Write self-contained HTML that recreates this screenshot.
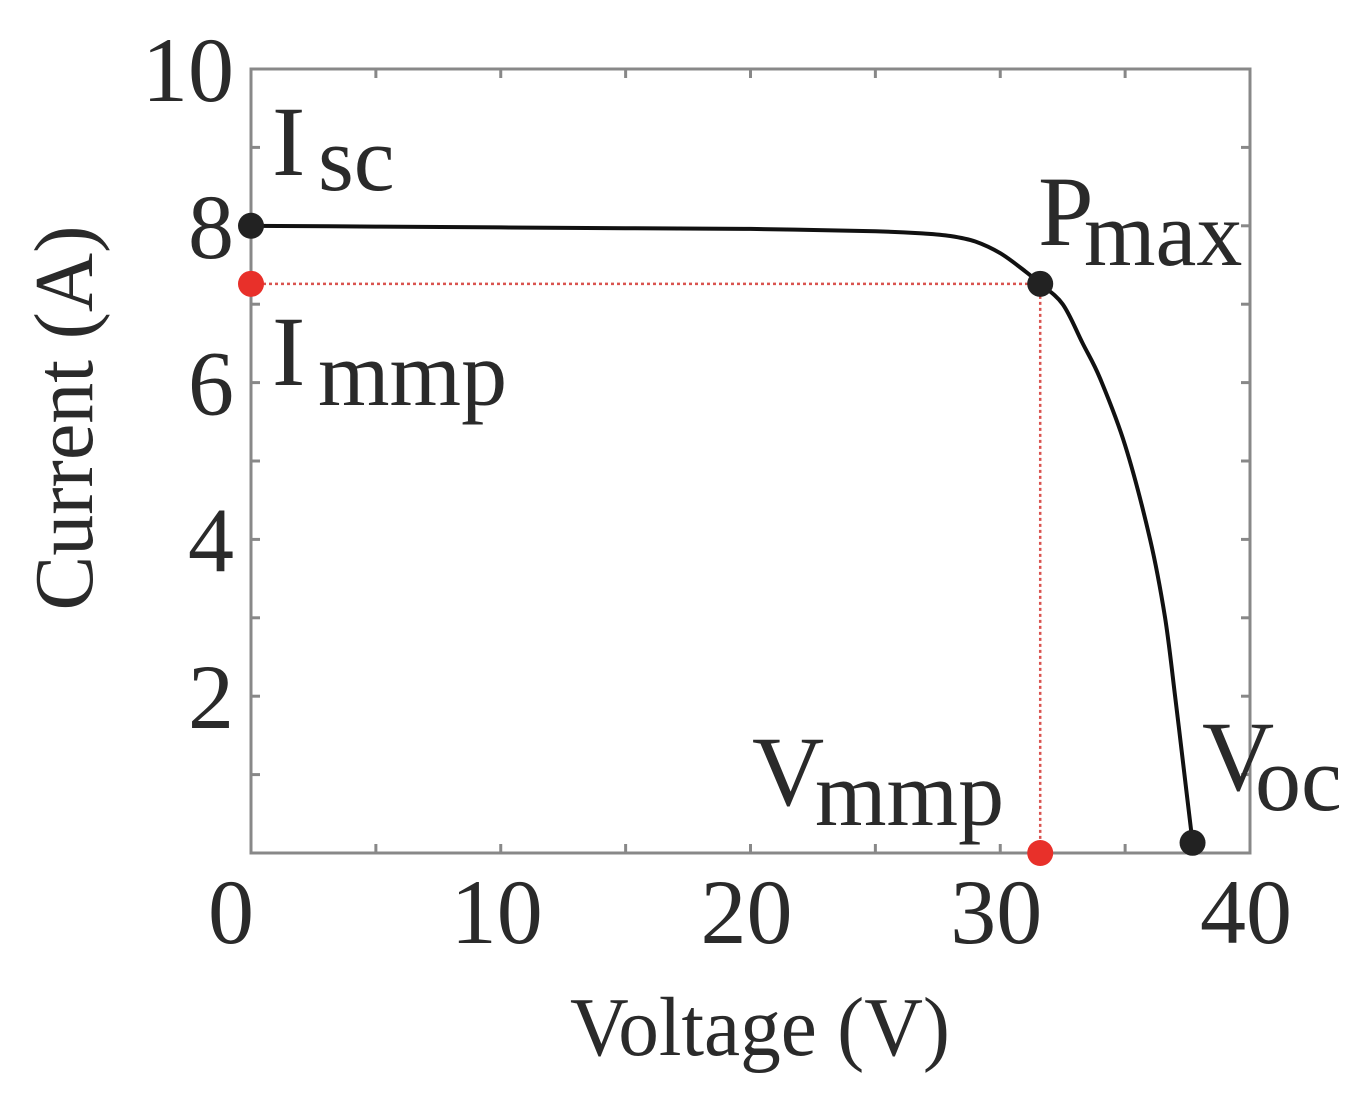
<!DOCTYPE html>
<html><head><meta charset="utf-8"><style>
html,body{margin:0;padding:0;background:#fff;}
svg{display:block;}
text{font-family:"Liberation Serif",serif;fill:#2a2a2a;}
</style></head><body>
<svg id="chart" width="1367" height="1100" viewBox="0 0 1367 1100">
<g id="axes"></g>
<g id="marks"></g>
<text x="760" y="1055" font-size="84" text-anchor="middle" textLength="380" lengthAdjust="spacingAndGlyphs">Voltage (V)</text>
<text transform="translate(92,418) rotate(-90)" font-size="84" text-anchor="middle" textLength="385" lengthAdjust="spacingAndGlyphs">Current (A)</text>
<text x="272" y="175" font-size="100">I<tspan x="318" y="190" font-size="92">sc</tspan></text>
<text x="272" y="385" font-size="100">I<tspan x="318" y="405" font-size="92">mmp</tspan></text>
<text x="1038" y="245" font-size="100">P<tspan x="1084" y="265" font-size="92">max</tspan></text>
<text x="752" y="805" font-size="100">V<tspan x="815" y="825" font-size="92">mmp</tspan></text>
<text x="1202" y="790" font-size="100">V<tspan x="1255" y="810" font-size="92">oc</tspan></text>
</svg>
<script>
const voltage = [0,5,10,15,20,25,27,28,29,30,31,31.6,32.5,33.3,34,35,36,36.6,37,37.3,37.7];
const current = [8.0,7.99,7.98,7.97,7.96,7.93,7.9,7.87,7.8,7.65,7.42,7.26,7.0,6.5,6.05,5.2,4.0,3.0,2.0,1.2,0.13];
const xTicks = [0,10,20,30,40];
const yTicks = [2,4,6,8,10];
const mpp = [31.6,7.26];
const isc = [0,8.0];
const voc = [37.7,0.13];

const NS="http://www.w3.org/2000/svg";
const X0=251,X1=1250,Y0=853,Y1=69;
const xs=v=>X0+(v-0)/40*(X1-X0);
const ys=v=>Y0-(v-0)/10*(Y0-Y1);
function mk(tag,attrs,parent){const e=document.createElementNS(NS,tag);for(const k in attrs)e.setAttribute(k,attrs[k]);parent.appendChild(e);return e;}
const axes=document.getElementById('axes'),marks=document.getElementById('marks');

const box=mk('rect',{x:X0,y:Y1,width:X1-X0,height:Y0-Y1,fill:'none',stroke:'#888','stroke-width':3},axes);


for(let v=0;v<=40;v+=5){
  const t1=mk('line',{x1:xs(v),x2:xs(v),y1:Y0,y2:Y0-9,stroke:'#888','stroke-width':3},axes);
  
  
  const t2=mk('line',{x1:xs(v),x2:xs(v),y1:Y1,y2:Y1+9,stroke:'#888','stroke-width':3},axes);
  
  
}
for(let v=0;v<=10;v+=1){
  const t1=mk('line',{x1:X0,x2:X0+9,y1:ys(v),y2:ys(v),stroke:'#888','stroke-width':3},axes);
  
  
  const t2=mk('line',{x1:X1,x2:X1-9,y1:ys(v),y2:ys(v),stroke:'#888','stroke-width':3},axes);
  
  
}
xTicks.forEach(v=>{
  const t=mk('text',{x:xs(v)-(v===0?20:4),y:943,'font-size':92,'text-anchor':'middle'},axes);
  t.textContent=v;
  
  
});
yTicks.forEach(v=>{
  const t=mk('text',{x:234,y:ys(v)+32,'font-size':92,'text-anchor':'end'},axes);
  t.textContent=v;
  
  
});
const g1=mk('line',{x1:xs(0),x2:xs(mpp[0]),y1:ys(mpp[1]),y2:ys(mpp[1]),stroke:'#d9534f','stroke-width':2.5,'stroke-dasharray':'3 3'},marks);


const g2=mk('line',{x1:xs(mpp[0]),x2:xs(mpp[0]),y1:ys(mpp[1]),y2:ys(0),stroke:'#d9534f','stroke-width':2.5,'stroke-dasharray':'3 3'},marks);


// smooth curve (Catmull-Rom)
const P=voltage.map((v,i)=>[xs(v),ys(current[i])]);
let d='M'+P[0][0].toFixed(1)+','+P[0][1].toFixed(1);
for(let i=0;i<P.length-1;i++){
  const p0=P[Math.max(0,i-1)],p1=P[i],p2=P[i+1],p3=P[Math.min(P.length-1,i+2)];
  const c1=[p1[0]+(p2[0]-p0[0])/6,p1[1]+(p2[1]-p0[1])/6];
  const c2=[p2[0]-(p3[0]-p1[0])/6,p2[1]-(p3[1]-p1[1])/6];
  d+=' C'+c1.map(n=>n.toFixed(1)).join(',')+' '+c2.map(n=>n.toFixed(1)).join(',')+' '+p2.map(n=>n.toFixed(1)).join(',');
}
const p=mk('path',{d:d,fill:'none',stroke:'#111','stroke-width':4,'stroke-linejoin':'round'},marks);


function dot(x,y,c,n){const e=mk('circle',{cx:x,cy:y,r:13,fill:c},marks);
  
  }
dot(xs(isc[0]),ys(isc[1]),'#222','isc-point');
dot(xs(mpp[0]),ys(mpp[1]),'#222','pmax-point');
dot(xs(voc[0]),ys(voc[1]),'#222','voc-point');
dot(xs(0),ys(mpp[1]),'#e8302a','immp-point');
dot(xs(mpp[0]),ys(0),'#e8302a','vmmp-point');
</script>
</body></html>
